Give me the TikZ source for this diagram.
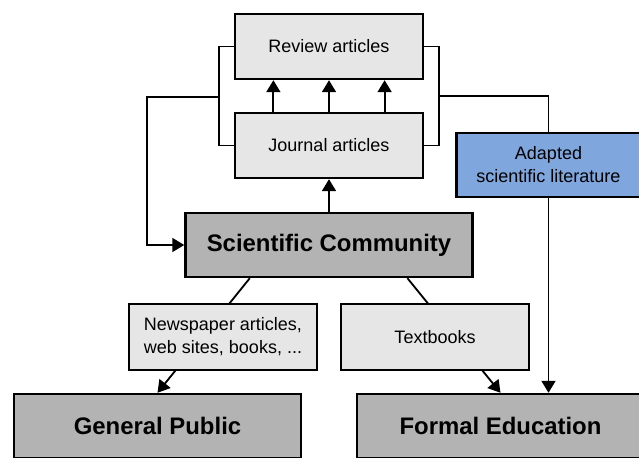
\documentclass[tikz,border=0pt]{standalone}
\usepackage{fontspec}
\setmainfont{Liberation Sans}
\usepackage{tikz}
\usetikzlibrary{arrows.meta}
\usetikzlibrary{positioning, calc}
\definecolor{lightbox}{RGB}{230,230,230}
\definecolor{darkbox}{RGB}{179,179,179}
\definecolor{adaptblue}{RGB}{127,166,221}
\tikzset{
    pub/.style={draw, line width=1.7pt, fill=lightbox, minimum width=4.7cm,
        minimum height=1.625cm, align=center, font=\fontsize{12.8}{16.4}\selectfont},
    group/.style={draw, line width=1.7pt, fill=darkbox, minimum width=7.175cm,
        minimum height=1.6cm, font=\fontsize{17}{20}\selectfont\bfseries},
    link/.style={line width=1.3pt},
    arr/.style={link, -{Triangle[length=0.3cm, width=0.35cm]}}
}

\begin{document}
\begin{tikzpicture}[x=0.025cm, y=-0.025cm]
    \useasboundingbox (0,0) rectangle (639,458);
    \clip (0,0) rectangle (639,458);
    \fill[white] (0,0) rectangle (639,458);

    \node[pub] (review) at (329,46.5) {Review articles};
    \node[pub] (journal) at (329,145.5) {Journal articles};
    \node[group] (sci) at (329,245) {Scientific Community};
    \node[group] (public) at (157.5,426) {General Public};
    \node[group] (edu) at (500.5,426) {Formal Education};

    % the media boxes sit on top of these two
    \draw[arr] ([xshift=-1.98cm]sci.south) -- (public.north);
    \draw[arr] ([xshift=1.96cm]sci.south) -- (edu.north);

    \node[pub, minimum height=1.65cm] (news) at (223,337) {Newspaper articles,\\web sites, books, ...};
    \node[pub, minimum height=1.65cm] (text) at (435,337) {Textbooks};

    \coordinate (lbr) at (219,97);
    \coordinate (rbr) at (439,96);
    \coordinate (lturn) at (147,97);

    \draw[link] (review.west) -| (lbr) |- (journal.west);
    \draw[link] (review.east) -| (rbr) |- (journal.east);

    \foreach \dx in {-1.39cm, 0cm, 1.39cm}
        \draw[arr] ([xshift=\dx]journal.north) -- ([xshift=\dx]review.south);
    \draw[arr] (sci.north) -- (journal.south);

    \draw[arr] (lbr) -- (lturn) |- (sci.west);

    \node[pub, fill=adaptblue, minimum width=4.6cm, minimum height=1.6cm]
        (adapt) at (548.5,165) {Adapted\\scientific literature};
    \draw[link] (rbr) -| (adapt.north);
    \draw[arr] (adapt.south) -- (adapt.south |- edu.north);
\end{tikzpicture}
\end{document}
